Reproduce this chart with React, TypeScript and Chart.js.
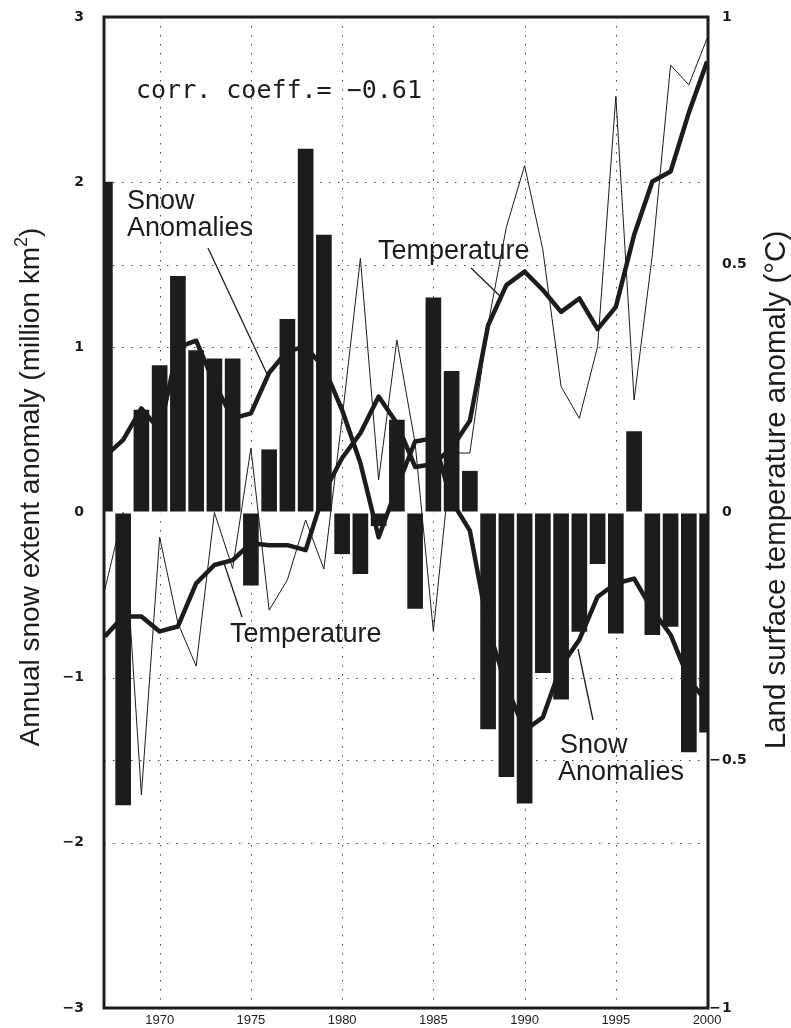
import React, { useEffect, useRef } from "react";
import { Chart, registerables } from "chart.js";

Chart.register(...registerables);

const YEARS = [
  1967, 1968, 1969, 1970, 1971, 1972, 1973, 1974, 1975, 1976, 1977, 1978,
  1979, 1980, 1981, 1982, 1983, 1984, 1985, 1986, 1987, 1988, 1989, 1990,
  1991, 1992, 1993, 1994, 1995, 1996, 1997, 1998, 1999, 2000,
];

// Annual snow extent anomaly (million km2), left axis — bars
const SNOW_ANOMALY = [
  2.0, -1.77, 0.62, 0.89, 1.43, 0.98, 0.93, 0.93, -0.44, 0.38, 1.17, 2.2,
  1.68, -0.25, -0.37, -0.08, 0.56, -0.58, 1.3, 0.855, 0.25, -1.31, -1.6, -1.76,
  -0.97, -1.13, -0.72, -0.31, -0.73, 0.49, -0.74, -0.69, -1.45, -1.33,
];

// Smoothed snow anomaly (million km2), left axis — thick line
const SNOW_SMOOTH = [
  0.34, 0.44, 0.63, 0.5, 1.0, 1.04, 0.78, 0.57, 0.6, 0.845, 0.98, 1.0,
  0.88, 0.62, 0.3, -0.15, 0.15, 0.43, 0.45, 0.07, -0.11, -0.7, -1.05, -1.32,
  -1.24, -0.93, -0.77, -0.51, -0.43, -0.4, -0.59, -0.74, -1.01, -1.15,
];

// Annual land surface temperature anomaly (°C), right axis — thin line
const TEMP_ANNUAL = [
  -0.155, 0.0, -0.57, -0.05, -0.223, -0.31, 0.0, -0.113, 0.13, -0.197, -0.136, -0.015,
  -0.114, 0.19, 0.513, 0.066, 0.348, 0.14, -0.24, 0.12, 0.12, 0.38, 0.576, 0.7,
  0.53, 0.254, 0.19, 0.335, 0.84, 0.227, 0.52, 0.903, 0.863, 0.957,
];

// Smoothed temperature anomaly (°C), right axis — thick line
const TEMP_SMOOTH = [
  -0.25, -0.21, -0.21, -0.24, -0.23, -0.143, -0.106, -0.096, -0.062, -0.066, -0.066, -0.076,
  0.04, 0.11, 0.16, 0.234, 0.18, 0.092, 0.098, 0.13, 0.185, 0.378, 0.459, 0.486,
  0.449, 0.405, 0.432, 0.37, 0.415, 0.56, 0.668, 0.688, 0.807, 0.91,
];

const X_TICKS = [1970, 1975, 1980, 1985, 1990, 1995, 2000];
const X_GRID = [1970, 1975, 1980, 1985, 1990, 1995];
const LEFT_TICKS = [3, 2, 1, 0, -1, -2, -3];
const RIGHT_TICKS = [1, 0.5, 0, -0.5, -1];
const LEFT_GRID = [2, 1.5, 1, -1, -1.5, -2];

const CORR_TEXT = "corr. coeff.= \u22120.61";
const SNOW_LABEL = ["Snow", "Anomalies"];
const TEMP_LABEL = "Temperature";
const LEFT_TITLE = "Annual snow extent anomaly (million km";
const LEFT_TITLE_SUP = "2";
const LEFT_TITLE_END = ")";
const RIGHT_TITLE = "Land surface temperature anomaly (\u00B0C)";

const INK = "#1d1b1b";

const overlay = {
  id: "overlay",
  beforeDatasetsDraw(chart: any) {
    const { ctx, chartArea: a, scales } = chart;
    ctx.save();
    ctx.strokeStyle = "#444";
    ctx.lineWidth = 1;
    ctx.setLineDash([1.5, 7.5]);
    for (const v of X_GRID) {
      const x = Math.round(scales.x.getPixelForValue(v)) + 0.5;
      ctx.beginPath();
      ctx.moveTo(x, a.top);
      ctx.lineTo(x, a.bottom);
      ctx.stroke();
    }
    for (const v of LEFT_GRID) {
      const y = Math.round(scales.y.getPixelForValue(v)) + 0.5;
      ctx.beginPath();
      ctx.moveTo(a.left, y);
      ctx.lineTo(a.right, y);
      ctx.stroke();
    }
    ctx.restore();
  },
  afterDatasetDraw(chart: any, args: any) {
    if (args.index !== 0) return;
    const { ctx, chartArea: a, scales } = chart;
    const y0 = scales.y.getPixelForValue(0);
    ctx.save();
    ctx.fillStyle = "#fff";
    ctx.fillRect(a.left, y0 - 1, a.right - a.left, 2);
    ctx.restore();
  },
  afterDraw(chart: any) {
    const { ctx, chartArea: a, scales } = chart;
    ctx.save();
    // frame
    ctx.strokeStyle = INK;
    ctx.lineWidth = 3;
    ctx.strokeRect(a.left, a.top, a.right - a.left, a.bottom - a.top);

    // y tick labels
    ctx.fillStyle = INK;
    ctx.font = "bold 14px 'DejaVu Sans'";
    ctx.textBaseline = "middle";
    ctx.textAlign = "right";
    for (const v of LEFT_TICKS) {
      const y = scales.y.getPixelForValue(v);
      const t = v < 0 ? "\u2212" + Math.abs(v) : String(v);
      ctx.fillText(t, a.left - 20, y);
    }
    for (const v of RIGHT_TICKS) {
      const y = scales.y1.getPixelForValue(v);
      ctx.textAlign = "left";
      ctx.fillText(String(Math.abs(v)), a.right + 14, y);
      if (v < 0) {
        ctx.textAlign = "right";
        ctx.fillText("\u2212", a.right + 13, y);
      }
    }

    // axis titles
    ctx.font = "28px 'Liberation Sans'";
    ctx.textBaseline = "middle";
    ctx.textAlign = "left";
    {
      const main = ctx.measureText(LEFT_TITLE).width;
      ctx.font = "18px 'Liberation Sans'";
      const sup = ctx.measureText(LEFT_TITLE_SUP).width;
      ctx.font = "28px 'Liberation Sans'";
      const end = ctx.measureText(LEFT_TITLE_END).width;
      const total = main + sup + end;
      ctx.save();
      ctx.translate(31, 487);
      ctx.rotate(-Math.PI / 2);
      let x = -total / 2;
      ctx.fillText(LEFT_TITLE, x, 0);
      x += main;
      ctx.font = "18px 'Liberation Sans'";
      ctx.fillText(LEFT_TITLE_SUP, x, -9);
      x += sup;
      ctx.font = "28px 'Liberation Sans'";
      ctx.fillText(LEFT_TITLE_END, x, 0);
      ctx.restore();
    }
    {
      ctx.save();
      ctx.font = "29.5px 'Liberation Sans'";
      ctx.translate(777, 490);
      ctx.rotate(-Math.PI / 2);
      ctx.textAlign = "center";
      ctx.fillText(RIGHT_TITLE, 0, 0);
      ctx.restore();
    }

    // annotations
    ctx.textAlign = "left";
    ctx.textBaseline = "alphabetic";
    ctx.font = "25px 'DejaVu Sans Mono'";
    ctx.fillText(CORR_TEXT, 136, 98);

    ctx.font = "27px 'Liberation Sans'";
    ctx.fillText(SNOW_LABEL[0], 127, 209);
    ctx.fillText(SNOW_LABEL[1], 127, 236);
    ctx.fillText(TEMP_LABEL, 378, 259);
    ctx.fillText(TEMP_LABEL, 230, 642);
    ctx.fillText(SNOW_LABEL[0], 560, 753);
    ctx.fillText(SNOW_LABEL[1], 558, 780);

    ctx.strokeStyle = INK;
    ctx.lineWidth = 1.3;
    const leaders = [
      [208, 248, 267, 374],
      [471, 268, 500, 296],
      [242, 617, 224, 563],
      [593, 720, 578, 649],
    ];
    for (const [x1, y1, x2, y2] of leaders) {
      ctx.beginPath();
      ctx.moveTo(x1, y1);
      ctx.lineTo(x2, y2);
      ctx.stroke();
    }
    ctx.restore();
  },
};

export default function App() {
  const ref = useRef<HTMLCanvasElement>(null);

  useEffect(() => {
    const canvas = ref.current;
    if (!canvas) return;
    const pts = (vals: number[]) => YEARS.map((x, i) => ({ x, y: vals[i] }));
    const chart = new Chart(canvas, {
      type: "bar",
      data: {
        datasets: [
          {
            type: "bar",
            label: "Snow anomaly",
            data: pts(SNOW_ANOMALY),
            backgroundColor: INK,
            borderWidth: 0,
            barThickness: 15,
            xAxisID: "x",
            yAxisID: "y",
            order: 3,
          } as any,
          {
            type: "line",
            label: "Snow smoothed",
            data: pts(SNOW_SMOOTH),
            borderColor: INK,
            borderWidth: 4.5,
            borderJoinStyle: "round",
            pointRadius: 0,
            tension: 0,
            xAxisID: "x",
            yAxisID: "y",
            order: 2,
          },
          {
            type: "line",
            label: "Temperature smoothed",
            data: pts(TEMP_SMOOTH),
            borderColor: INK,
            borderWidth: 4.5,
            borderJoinStyle: "round",
            pointRadius: 0,
            tension: 0,
            xAxisID: "x",
            yAxisID: "y1",
            order: 1,
          },
          {
            type: "line",
            label: "Temperature annual",
            data: pts(TEMP_ANNUAL),
            borderColor: INK,
            borderWidth: 1,
            pointRadius: 0,
            tension: 0,
            xAxisID: "x",
            yAxisID: "y1",
            order: 0,
          },
        ],
      },
      options: {
        responsive: false,
        animation: false,
        devicePixelRatio: 1,
        layout: { padding: { top: 17, left: 0, right: 0, bottom: 0 } },
        plugins: { legend: { display: false }, tooltip: { enabled: false } },
        scales: {
          x: {
            type: "linear",
            position: "bottom",
            offset: false,
            min: 1966.95,
            max: 2000.05,
            grid: { display: false, drawTicks: false },
            border: { display: false },
            afterBuildTicks: (s: any) => {
              s.ticks = X_TICKS.map((v) => ({ value: v }));
            },
            ticks: {
              autoSkip: false,
              maxRotation: 0,
              padding: 5,
              color: INK,
              font: { family: "'Liberation Sans'", size: 13 },
              callback: (v: any) => String(v),
            },
            afterFit: (s: any) => {
              s.height = 20;
            },
          },
          y: {
            type: "linear",
            position: "left",
            min: -3,
            max: 3,
            grid: { display: false, drawTicks: false },
            border: { display: false },
            ticks: { display: false },
            afterFit: (s: any) => {
              s.width = 104;
            },
          },
          y1: {
            type: "linear",
            position: "right",
            min: -1,
            max: 1,
            grid: { display: false, drawTicks: false },
            border: { display: false },
            ticks: { display: false },
            afterFit: (s: any) => {
              s.width = 83;
            },
          },
        },
      } as any,
      plugins: [overlay],
    });
    return () => chart.destroy();
  }, []);

  return (
    <div
      style={{
        position: "absolute",
        left: 0,
        top: 0,
        width: 791,
        height: 1028,
        background: "#fff",
      }}
    >
      <canvas ref={ref} width={791} height={1028} style={{ display: "block" }} />
    </div>
  );
}
